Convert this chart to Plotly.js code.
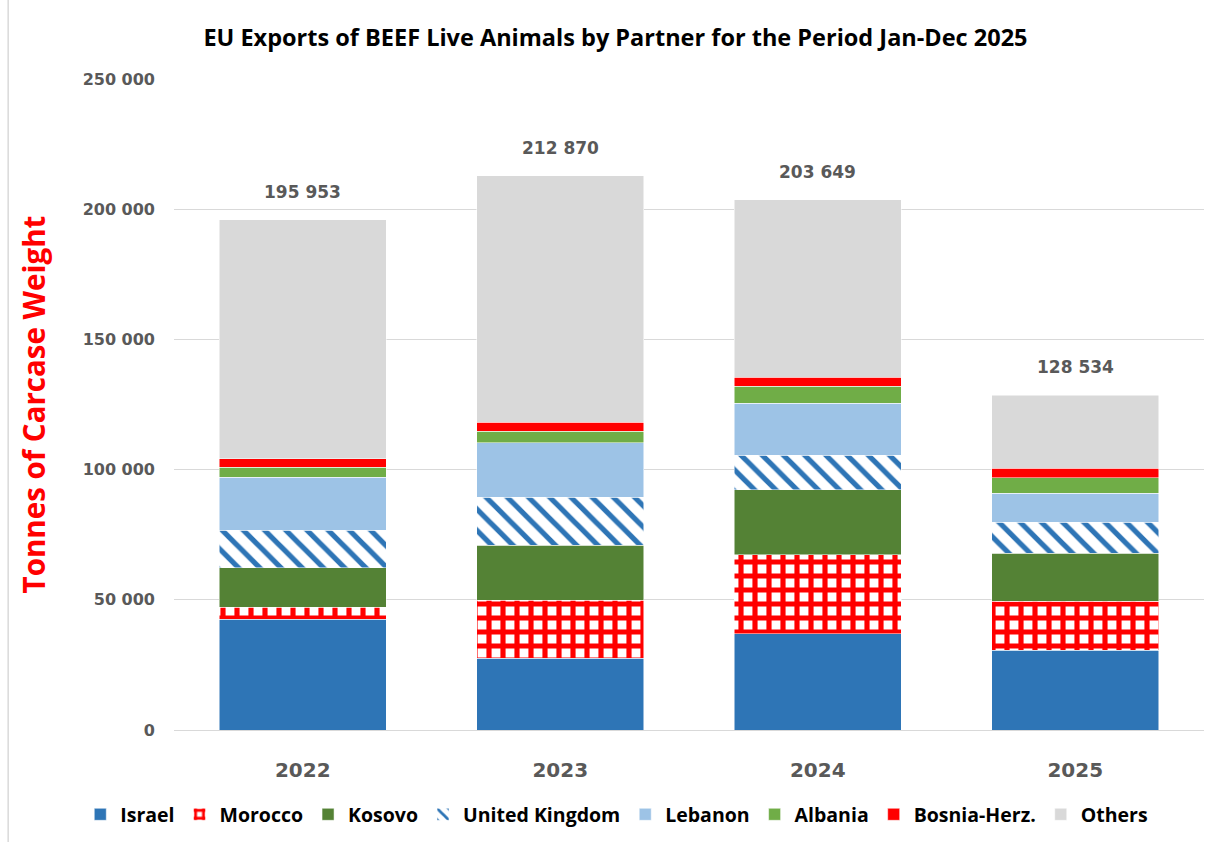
<!DOCTYPE html>
<html>
<head>
<meta charset="utf-8">
<script src="https://cdn.plot.ly/plotly-3.0.1.min.js"></script>
<style>
  body { margin: 0; background: #fff; }
  #chart { width: 1214px; height: 842px; }
</style>
</head>
<body>
<div id="chart"></div>
<script>
// data (tonnes carcase weight)
var years = ["2022", "2023", "2024", "2025"];
var israel = [42480, 27620, 36990, 30570];
var morocco = [4720, 22160, 30340, 18940];
var kosovo = [15140, 21240, 24970, 18440];
var unitedKingdom = [14330, 18440, 13290, 11910];
var lebanon = [20350, 20890, 19860, 11130];
var albania = [3960, 4460, 6530, 5920];
var bosnia = [3230, 3340, 3570, 3570];
var others = [91743, 94720, 68099, 28054];
var totals = [195953, 212870, 203649, 128534];
var totalLabels = ["195 953", "212 870", "203 649", "128 534"];

// 1. one trace per partner, stacked from the bottom
function barTrace(name, values, color, pattern) {
  var marker = { color: color, line: { width: 0.5, color: "#ffffff" } };
  if (pattern) marker.pattern = pattern;
  return {
    x: years,
    y: values,
    type: "bar",
    name: name,
    marker: marker,
    hoverinfo: "skip"
  };
}

var data = [
  barTrace("Israel", israel, "#2E75B6"),
  barTrace("Morocco", morocco, "#FFFFFF",
    { shape: "+", fgcolor: "#FF0000", bgcolor: "#FFFFFF", size: 14, solidity: 0.6 }),
  barTrace("Kosovo", kosovo, "#548235"),
  barTrace("United Kingdom", unitedKingdom, "#FFFFFF",
    { shape: "\\", fgcolor: "#2E75B6", bgcolor: "#FFFFFF", size: 15, solidity: 0.35 }),
  barTrace("Lebanon", lebanon, "#9DC3E6"),
  barTrace("Albania", albania, "#70AD47"),
  barTrace("Bosnia-Herz.", bosnia, "#FF0000"),
  barTrace("Others", others, "#D9D9D9")
];

// 2. total labels above each bar (category axis -> use the category index)
var annotations = years.map(function (yr, i) {
  return {
    x: i,
    y: totals[i],
    text: totalLabels[i],
    showarrow: false,
    yanchor: "bottom",
    yshift: 16,
    font: { family: "DejaVu Sans", size: 17, color: "#595959", weight: "bold" }
  };
});

// 3. layout
var layout = {
  width: 1214,
  height: 842,
  margin: { l: 174, r: 10, t: 79, b: 112, autoexpand: false },
  paper_bgcolor: "#ffffff",
  plot_bgcolor: "#ffffff",
  barmode: "stack",
  bargap: 0.35,
  separators: ", ",
  showlegend: true,
  title: {
    text: "EU Exports of BEEF Live Animals by Partner for the Period Jan-Dec 2025",
    x: 0.507,
    xanchor: "center",
    y: 0.955,
    yanchor: "middle",
    font: { family: "Open Sans", size: 23.5, color: "#000000", weight: "bold" }
  },
  xaxis: {
    type: "category",
    showgrid: false,
    showline: false,
    zeroline: false,
    ticks: "",
    ticklabelstandoff: 26,
    tickfont: { family: "DejaVu Sans", size: 20, color: "#595959", weight: "bold" }
  },
  yaxis: {
    range: [0, 250000],
    dtick: 50000,
    tickformat: ",.0f",
    showgrid: true,
    gridcolor: "#D9D9D9",
    gridwidth: 1,
    zeroline: true,
    zerolinecolor: "#D9D9D9",
    zerolinewidth: 1,
    showline: false,
    ticks: "",
    ticklabelstandoff: 18,
    tickfont: { family: "DejaVu Sans", size: 16, color: "#595959", weight: "bold" },
    title: {
      text: "Tonnes of Carcase Weight",
      standoff: 28,
      font: { family: "Open Sans", size: 29.5, color: "#FF0000", weight: "bold" }
    }
  },
  // legend starts left of the plot area so it can use the full width in one row
  legend: {
    orientation: "h",
    traceorder: "normal",
    x: -0.091,
    xanchor: "left",
    y: -0.13,
    yanchor: "middle",
    font: { family: "Open Sans", size: 19.5, color: "#000000", weight: "bold" }
  },
  annotations: annotations,
  shapes: [{
    type: "line",
    xref: "paper", yref: "paper",
    x0: -0.161, x1: -0.161, y0: -0.2, y1: 1.2,
    line: { color: "#D9D9D9", width: 1.5 }
  }]
};

Plotly.newPlot("chart", data, layout, { displayModeBar: false });
</script>
</body>
</html>
